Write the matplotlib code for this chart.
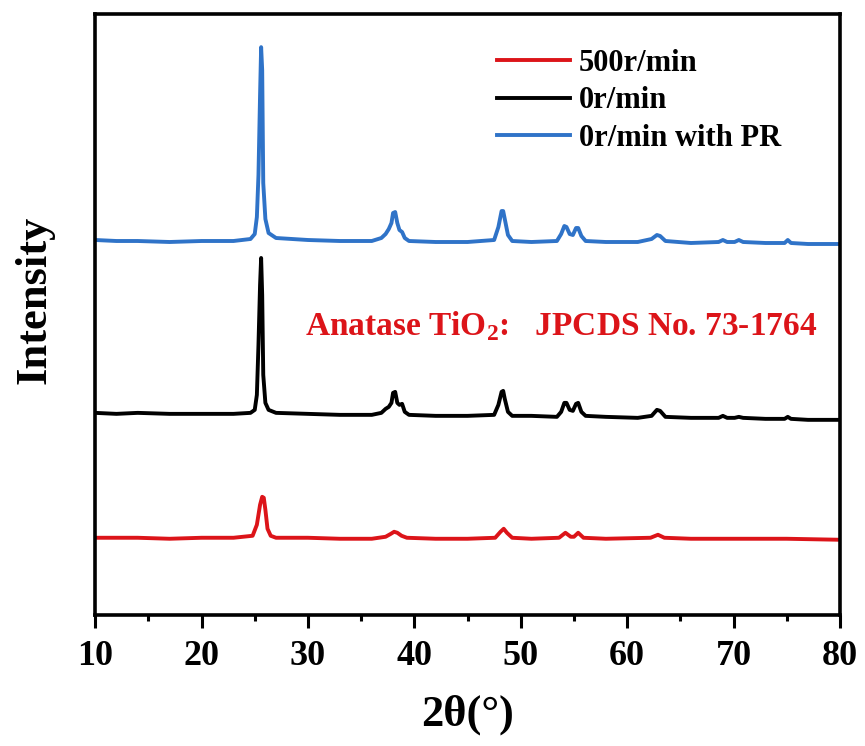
import numpy as np
from matplotlib import pyplot as plt
from matplotlib.ticker import MultipleLocator

plt.rcParams['font.family'] = ['Liberation Serif', 'DejaVu Serif']
plt.rcParams['font.weight'] = 'bold'
plt.rcParams['mathtext.fontset'] = 'custom'
plt.rcParams['mathtext.rm'] = 'Liberation Serif:bold'
plt.rcParams['mathtext.bf'] = 'Liberation Serif:bold'

# 2theta / intensity (arbitrary units)
x_pr = [10, 12, 14, 17, 20, 23, 24.6, 25.0, 25.2, 25.35, 25.5, 25.6, 25.7, 25.8, 26.0, 26.3, 27, 30, 33, 36,
        36.9, 37.3, 37.6, 37.85, 38.0, 38.2, 38.4, 38.6, 38.85, 39.1, 39.5, 42, 45, 47.5, 47.9, 48.2, 48.35,
        48.5, 48.8, 49.2, 51, 53.4, 53.8, 54.1, 54.3, 54.6, 54.9, 55.2, 55.4, 55.7, 56.1, 58, 61, 62.3, 62.8,
        63.1, 63.6, 66, 68.6, 69.0, 69.4, 70.1, 70.5, 70.9, 73, 74.8, 75.1, 75.4, 77, 80]
y_pr = [375, 374, 374, 373, 374, 374, 376, 381, 398, 440, 520, 568, 545, 432, 396, 382, 377, 375, 374, 374,
        377, 381, 386, 392, 402, 403, 392, 385, 383, 377, 374, 373, 373, 375, 388, 404, 404, 396, 380, 374,
        373, 374, 381, 389, 388, 381, 380, 387, 387, 379, 374, 373, 373, 376, 380, 379, 374, 372, 373, 375,
        373, 373, 375, 373, 372, 372, 375, 372, 371, 371]

x_0 = [10, 12, 14, 17, 20, 23, 24.6, 25.0, 25.2, 25.35, 25.5, 25.6, 25.7, 25.8, 26.0, 26.3, 27, 30, 33, 36,
       36.9, 37.3, 37.6, 37.85, 38.0, 38.2, 38.4, 38.6, 38.85, 39.1, 39.5, 42, 45, 47.5, 47.9, 48.2, 48.35,
       48.5, 48.8, 49.2, 51, 53.4, 53.8, 54.1, 54.3, 54.6, 54.9, 55.2, 55.4, 55.7, 56.1, 58, 61, 62.3, 62.8,
       63.1, 63.6, 66, 68.6, 69.0, 69.4, 70.1, 70.5, 70.9, 73, 74.8, 75.1, 75.4, 77, 80]
y_0 = [202, 201, 202, 201, 201, 201, 202, 205, 220, 270, 330, 357, 320, 240, 212, 205, 202, 201, 200, 200,
       202, 206, 208, 212, 222, 223, 212, 210, 211, 203, 200, 199, 199, 200, 210, 223, 224, 216, 203, 199,
       199, 198, 203, 212, 212, 205, 204, 211, 212, 203, 199, 198, 197, 199, 205, 204, 198, 197, 197, 199,
       197, 197, 198, 197, 196, 196, 198, 196, 195, 195]

x_500 = [10, 12, 14, 17, 20, 23, 24.8, 25.2, 25.5, 25.7, 25.85, 26.0, 26.2, 26.5, 27, 30, 33, 36,
         37.3, 37.8, 38.1, 38.4, 38.8, 39.3, 42, 45, 47.6, 48.1, 48.4, 48.7, 49.2, 51, 53.6, 54.2, 54.7,
         55.0, 55.4, 55.9, 58, 62.2, 62.9, 63.5, 66, 70, 75, 80]
y_500 = [77, 77, 77, 76, 77, 77, 79, 90, 110, 118, 117, 105, 86, 79, 77, 77, 76, 76,
         78, 81, 83, 82, 79, 77, 76, 76, 77, 83, 86, 82, 77, 76, 77, 82, 78,
         78, 82, 77, 76, 77, 80, 77, 76, 76, 76, 75]

labels = ['500r/min', '0r/min', '0r/min with PR']
colors = ['#dc1419', '#000000', '#2f73c8']

fig = plt.figure(figsize=(8.65, 7.46), dpi=100)
ax = fig.add_axes([0.110, 0.176, 0.861, 0.805])

ax.plot(x_500, y_500, color=colors[0], lw=2.8, label=labels[0])
ax.plot(x_0, y_0, color=colors[1], lw=2.8, label=labels[1])
ax.plot(x_pr, y_pr, color=colors[2], lw=2.8, label=labels[2])

ax.set_xlim(10, 80)
ax.set_ylim(0, 601)
ax.set_yticks([])
ax.xaxis.set_major_locator(MultipleLocator(10))
ax.xaxis.set_minor_locator(MultipleLocator(5))
ax.tick_params(axis='x', which='major', direction='out', length=9, width=2.2, labelsize=26, pad=9)
ax.tick_params(axis='x', which='minor', direction='out', length=4.5, width=2.2)
for s in ax.spines.values():
    s.set_linewidth(2.6)

ax.set_xlabel('2θ(°)', fontsize=32, fontweight='bold', labelpad=16)
ax.set_ylabel('Intensity', fontsize=32, fontweight='bold', labelpad=29, y=0.525)

ax.text(29.7, 289, 'Anatase TiO$_2$:   JPCDS No. 73-1764', color='#dc1419',
        fontsize=24, fontweight='bold', ha='left', va='center')

ax.legend(loc='upper left', bbox_to_anchor=(0.519, 0.968), frameon=False, fontsize=22,
          borderpad=0, handlelength=2.4, handletextpad=0.28, labelspacing=0.28)

fig.savefig('out.png', dpi=100)
